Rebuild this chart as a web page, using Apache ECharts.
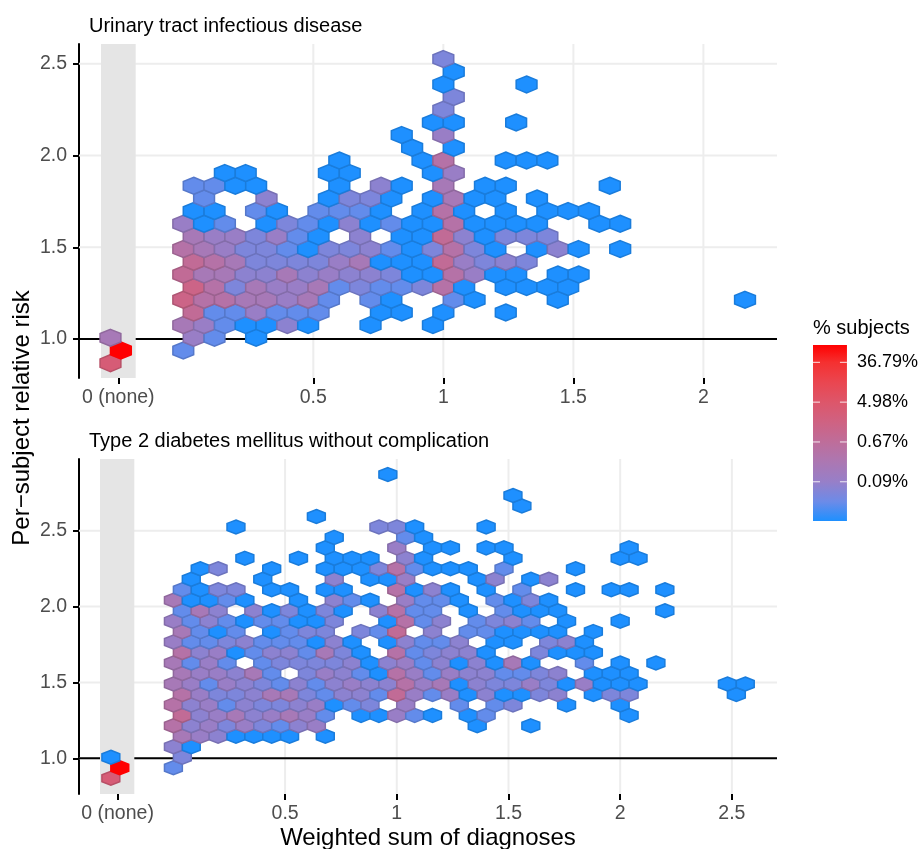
<!DOCTYPE html>
<html>
<head>
<meta charset="utf-8">
<style>html,body{margin:0;padding:0;background:#fff}#c{width:921px;height:849px}</style>
<script src="https://cdn.jsdelivr.net/npm/echarts@6/dist/echarts.min.js"></script>
</head>
<body>
<div id="c"></div>
<script>
// percent of subjects in a hexagon (colour classes)
const _=0,B=.012,S=.03,T=.05,P=.07,Q=.1,R=.2,U=.4,V=.8,W=1.5,X=3,RED=88;
const BIN_W=0.08, BIN_H=0.069;
const panelTitles=["Urinary tract infectious disease","Type 2 diabetes mellitus without complication"];
const legendTitle="% subjects";
const yTitle="Per\u2212subject relative risk";
const xTitle="Weighted sum of diagnoses";
const xTicksTop=[-0.25,0.5,1,1.5,2];
const xTicksBottom=[-0.25,0.5,1,1.5,2,2.5];
const yTicksTop=[1,1.5,2,2.5];
const yTicksBottom=[1,1.5,2,2.5];
const legendTicks=[-7,-5,-3,-1];
const bandTop=[-0.3165,-0.183];
const bandBottom=[-0.3286,-0.175];

const topRowY=[.869,.938,1.007,1.076,1.145,1.214,1.283,1.352,1.421,1.49,1.559,1.628,1.697,1.766,1.835,1.904,1.973,2.042,2.111,2.18,2.249,2.318,2.387,2.456,2.525];
const topRowX0=[-.28,-.24,-.28,0,.04,0,.04,0,.04,0,.04,0,.04,.08,.04,.16,.6,.88,.84,.96,1,1.04,1,1.04,1];
const topRowPct=[
[X],
[RED,_,_,S],
[R,_,_,_,Q,S,_,B],
[R,Q,S,B,B,P,B,_,_,B,_,_,B],
[V,S,S,Q,S,S,S,_,_,B,B,_,B,_,_,B],
[W,U,U,R,R,Q,R,S,_,S,B,_,_,S,B,_,_,_,B,_,_,_,_,_,_,_,_,B],
[W,U,T,R,Q,Q,R,S,T,S,S,T,U,B,_,B,B,B,B],
[V,R,R,P,P,R,P,Q,P,P,T,B,B,U,Q,B,B,_,B,B],
[V,U,R,T,T,T,T,Q,R,B,B,B,V,Q,T,P,T],
[U,R,Q,T,T,S,B,T,T,P,S,B,T,U,T,B,_,B,P,B,_,B],
[R,Q,Q,T,Q,S,B,_,P,_,B,B,V,P,B,T,T,T],
[Q,B,S,_,B,T,S,B,P,B,S,B,B,U,B,B,B,B,_,_,B,B],
[B,B,_,S,B,_,S,S,S,B,_,B,U,B,_,B,_,B,B,B],
[S,_,_,P,_,_,B,T,T,B,_,B,R,B,B,_,B],
[S,S,B,B,_,_,_,B,_,P,B,_,R,_,B,B,_,_,_,_,B],
[B,B,_,_,_,B,B,_,_,_,B,Q],
[B,_,_,_,B,U,_,_,B,B,B],
[B,_,B],
[B,_,Q],
[B,B,_,_,B],
[T],
[T],
[B,_,_,_,B],
[B],
[T]];

const bottomRowY=[.869,.938,1.007,1.076,1.145,1.214,1.283,1.352,1.421,1.49,1.559,1.628,1.697,1.766,1.835,1.904,1.973,2.042,2.111,2.18,2.249,2.318,2.387,2.456,2.525,2.594,2.663,2.732,2.87];
const bottomRowX0=[-.28,-.24,-.28,0,.04,0,.04,0,.04,0,.04,0,.04,0,.04,0,.04,0,.04,.08,.12,.32,.68,.72,.28,.64,1.56,1.52,.96];
const bottomRowPct=[
[X],
[RED,_,_,S],
[B,_,_,_,T],
[P,B],
[R,Q,P,B,B,B,B,_,B],
[U,P,Q,T,Q,T,S,P,Q,_,_,_,_,_,_,_,_,B,_,_,B],
[V,P,Q,R,P,Q,R,Q,S,_,B,B,Q,S,B,_,B,S,_,_,_,_,_,_,_,B],
[U,P,Q,S,P,T,T,P,Q,B,S,T,_,Q,_,_,S,_,S,T,_,_,B,_,_,B],
[U,Q,T,T,P,R,R,T,S,P,P,S,V,Q,S,Q,B,P,B,B,T,P,_,B,T,T,_,_,_,_,_,B],
[R,Q,S,Q,P,T,S,P,S,P,Q,P,P,U,Q,R,B,P,T,T,Q,T,B,Q,B,B,B,_,_,_,_,B,B],
[R,Q,Q,P,R,S,_,T,Q,P,S,B,U,Q,S,Q,P,P,S,S,T,P,_,B,B,B],
[R,S,Q,S,_,S,T,T,T,T,P,B,P,Q,S,P,B,P,B,R,B,_,_,S,_,B,_,B],
[U,P,Q,B,S,P,P,S,R,T,B,_,U,S,T,P,P,B,_,_,T,B,B,B],
[Q,S,S,T,P,S,S,S,B,P,B,_,B,P,S,S,P,_,B,B,_,T,P,B],
[R,S,B,S,_,B,S,T,T,_,T,S,V,_,P,_,S,S,B,B,B,B,_,B],
[Q,S,P,S,B,S,S,B,B,T,_,_,B,U,S,P,_,S,T,P,S,_,B,_,_,B],
[S,R,P,_,P,B,T,B,T,B,_,P,U,S,S,_,B,_,S,B,B,B,_,_,_,_,_,B],
[R,B,B,S,B,_,_,B,_,P,S,B,_,Q,S,S,B,_,S,B,T,B],
[S,B,T,T,_,B,B,_,B,B,_,_,U,B,P,B,_,B,_,S,_,_,B,_,B,B,_,B],
[B,_,_,_,B,_,_,_,P,_,B,B,Q,_,_,_,B,P,_,B,P],
[B,T,_,_,B,_,_,B,B,B,T,U,S,B,B,B,_,S,_,_,_,B],
[B,_,_,B,_,B,B,B,_,P,B,_,_,_,_,B,_,_,_,_,_,B,B],
[B,_,_,_,Q,_,B,B,_,B,B,_,_,_,_,_,_,B],
[B,_,_,_,S,B],
[B,_,_,_,_,_,_,_,T,T,B,_,_,_,B],
[B],
[B],
[B],
[B]];
</script>
<script>
const colorStops=[[-9,[30,144,255]],[-8,[108,139,232]],[-7,[151,127,200]],[-6,[172,119,178]],[-5,[190,109,154]],[-4,[207,98,130]],[-3,[221,86,106]],[-2,[234,70,80]],[-1,[245,48,48]],[-0.13,[255,0,0]]];
const L_MIN=-8.97,L_MAX=-0.13;
function rgbOfLog(l){
  if(l<=colorStops[0][0])return colorStops[0][1];
  for(let i=1;i<colorStops.length;i++){
    const a=colorStops[i-1],b=colorStops[i];
    if(l<=b[0]){const t=(l-a[0])/(b[0]-a[0]);return a[1].map((c,j)=>c+(b[1][j]-c)*t);}
  }
  return colorStops[colorStops.length-1][1];
}
function css(c,f){f=f||1;return 'rgb('+c.map(v=>Math.round(v*f)).join(',')+')';}
function hexData(ys,x0s,rows){
  const out=[];
  rows.forEach((row,i)=>row.forEach((p,k)=>{if(p>0)out.push([+(x0s[i]+k*BIN_W).toFixed(3),ys[i],p]);}));
  return out;
}
function renderHex(params,api){
  const c=api.coord([api.value(0),api.value(1)]);
  const s=api.size([BIN_W,BIN_H]);
  const w=s[0]/2,h=s[1]*2/3,q=h/2;
  const pct=api.value(2);
  const rgb=rgbOfLog(Math.log(pct/100));
  return {type:'polygon',shape:{points:[[c[0],c[1]-h],[c[0]+w,c[1]-q],[c[0]+w,c[1]+q],[c[0],c[1]+h],[c[0]-w,c[1]+q],[c[0]-w,c[1]-q]]},
    style:{fill:css(rgb),stroke:pct>50?css(rgb):css(rgb,.86),lineWidth:1.5}};
}
function renderBand(params,api){
  const a=api.coord([api.value(0),1]),b=api.coord([api.value(1),1]);
  const cs=params.coordSys;
  return {type:'rect',shape:{x:a[0],y:cs.y,width:b[0]-a[0],height:cs.height},style:{fill:'#E5E5E5'}};
}
function renderGridLine(params,api){
  const cs=params.coordSys,v=api.value(1),isX=api.value(0)===0;
  let sh;
  if(isX){const p=api.coord([v,1]);sh={x1:p[0],y1:cs.y,x2:p[0],y2:cs.y+cs.height};}
  else{const p=api.coord([1,v]);sh={x1:cs.x,y1:p[1],x2:cs.x+cs.width,y2:p[1]};}
  return {type:'line',shape:sh,style:{stroke:'#EDEDED',lineWidth:2}};
}
const F='"Liberation Sans",Arial,sans-serif';
function xAxis(idx,min,max,ticks){
  return {type:'value',gridIndex:idx,min,max,splitLine:{show:false},axisLine:{show:false,onZero:false},
    axisTick:{show:true,length:6,lineStyle:{color:'#000',width:2},customValues:ticks},
    axisLabel:{customValues:ticks,color:'#4D4D4D',fontSize:19.5,fontFamily:F,margin:10,formatter:v=>v<0?'0 (none)':String(v)}};
}
function yAxis(idx,min,max,ticks){
  return {type:'value',gridIndex:idx,min,max,splitLine:{show:false},
    axisLine:{show:true,onZero:false,lineStyle:{color:'#000',width:2}},
    axisTick:{show:true,length:6,lineStyle:{color:'#000',width:2},customValues:ticks},
    axisLabel:{customValues:ticks,color:'#4D4D4D',fontSize:19.5,fontFamily:F,margin:12,padding:[2,0,0,0],formatter:v=>v.toFixed(1)}};
}
function panelSeries(idx,band,xt,yt,xr,data){
  const gl=xt.filter(v=>v>0).map(v=>[0,v]).concat(yt.map(v=>[1,v]));
  const ref={xAxisIndex:idx,yAxisIndex:idx};
  return [
    Object.assign({type:'custom',renderItem:renderGridLine,data:gl,z:1,silent:true,encode:{x:1}},ref),
    Object.assign({type:'line',data:[[xr[0],1],[xr[1],1]],showSymbol:false,z:2,silent:true,lineStyle:{color:'#000',width:2}},ref),
    Object.assign({type:'custom',renderItem:renderBand,data:[band],z:3,silent:true},ref),
    Object.assign({type:'custom',renderItem:renderHex,data,z:4,silent:true},ref)
  ];
}
const XR1=[-0.401,2.283],YR1=[0.788,2.607],XR2=[-0.4226,2.702],YR2=[0.7647,2.9726];
const option={
  animation:false,backgroundColor:'#fff',
  textStyle:{fontFamily:F},
  title:[
    {text:panelTitles[0],left:84,top:11,textStyle:{fontSize:20,fontWeight:'normal',color:'#000',fontFamily:F}},
    {text:panelTitles[1],left:84,top:426,textStyle:{fontSize:20,fontWeight:'normal',color:'#000',fontFamily:F}},
    {text:legendTitle,left:808,top:313,textStyle:{fontSize:20,fontWeight:'normal',color:'#000',fontFamily:F}}
  ],
  grid:[
    {left:79,top:44,width:698,height:334},
    {left:79,top:459,width:698,height:335},
    {left:813,top:345,width:36,height:176}
  ],
  xAxis:[xAxis(0,XR1[0],XR1[1],xTicksTop),xAxis(1,XR2[0],XR2[1],xTicksBottom),
    {type:'value',gridIndex:2,min:0,max:1,show:false}],
  yAxis:[yAxis(0,YR1[0],YR1[1],yTicksTop),yAxis(1,YR2[0],YR2[1],yTicksBottom),
    {type:'value',gridIndex:2,min:L_MIN,max:L_MAX,position:'right',splitLine:{show:false},axisLine:{show:false},axisTick:{show:false},
     axisLabel:{customValues:legendTicks,color:'#000',fontSize:18,fontFamily:F,margin:10,padding:[2,0,0,0],formatter:v=>(100*Math.exp(v)).toFixed(2)+'%'}}],
  series:[
    ...panelSeries(0,bandTop,xTicksTop,yTicksTop,XR1,hexData(topRowY,topRowX0,topRowPct)),
    ...panelSeries(1,bandBottom,xTicksBottom,yTicksBottom,XR2,hexData(bottomRowY,bottomRowX0,bottomRowPct)),
    {type:'custom',xAxisIndex:2,yAxisIndex:2,silent:true,data:[[0,L_MIN,1,L_MAX]],z:2,
     renderItem(params,api){
       const a=api.coord([api.value(0),api.value(3)]),b=api.coord([api.value(2),api.value(1)]);
       const span=L_MAX-L_MIN;
       return {type:'rect',shape:{x:a[0],y:a[1],width:b[0]-a[0],height:b[1]-a[1]},
         style:{fill:new echarts.graphic.LinearGradient(0,1,0,0,colorStops.map(s=>({offset:Math.max(0,(s[0]-L_MIN)/span),color:css(s[1])})))}};
     }},
    {type:'custom',xAxisIndex:2,yAxisIndex:2,silent:true,data:legendTicks.map(v=>[v]),z:3,encode:{y:0},
     renderItem(params,api){
       const cs=params.coordSys,p=api.coord([0,api.value(0)]);
       const st={stroke:'rgba(255,255,255,0.85)',lineWidth:1};
       return {type:'group',children:[
         {type:'line',shape:{x1:cs.x,y1:p[1],x2:cs.x+7,y2:p[1]},style:st},
         {type:'line',shape:{x1:cs.x+cs.width-7,y1:p[1],x2:cs.x+cs.width,y2:p[1]},style:st}]};
     }}
  ],
  graphic:[
    {type:'text',rotation:Math.PI/2,x:22,y:418,style:{text:yTitle,fill:'#000',font:'24px '+F,textAlign:'center',textVerticalAlign:'middle'}},
    {type:'text',x:428,y:838,style:{text:xTitle,fill:'#000',font:'24px '+F,textAlign:'center',textVerticalAlign:'middle'}}
  ]
};
echarts.init(document.getElementById('c'),null,{renderer:'canvas'}).setOption(option);
</script>
</body>
</html>
